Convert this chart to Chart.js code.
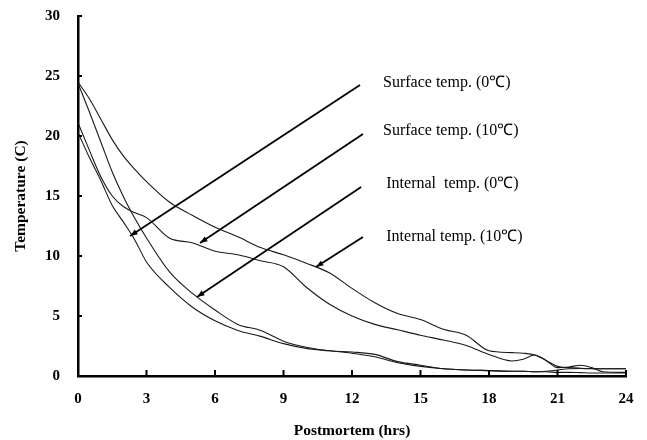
<!DOCTYPE html>
<html>
<head>
<meta charset="utf-8">
<script src="https://cdn.jsdelivr.net/npm/chart.js@4/dist/chart.umd.min.js"></script>
<style>
html, body { margin: 0; padding: 0; background: #fff; }
</style>
</head>
<body>
<canvas id="grafico" width="647" height="440"></canvas>
<script>
/* data */
var hours      = [0, 0.5, 1, 1.5, 2, 2.5, 3, 4, 5, 6, 7, 8, 9, 10, 11, 12, 13, 14, 15, 16, 17, 18, 19, 19.5, 20, 20.5, 21, 21.5, 22, 22.5, 23, 24];
var internal10 = [24.5, 23.1, 21.4, 19.7, 18.3, 17.2, 16.2, 14.5, 13.4, 12.4, 11.6, 10.7, 10.1, 9.4, 8.6, 7.3, 6.1, 5.2, 4.7, 3.9, 3.4, 2.1, 1.95, 1.9, 1.75, 1.3, 0.8, 0.7, 0.65, 0.62, 0.6, 0.6];
var surface10  = [21.1, 18.8, 16.6, 15.0, 14.1, 13.6, 13.2, 11.5, 11.1, 10.4, 10.1, 9.6, 9.1, 7.4, 6.0, 5.0, 4.3, 3.85, 3.4, 3.0, 2.55, 1.8, 1.25, 1.4, 1.75, 1.3, 0.7, 0.75, 0.9, 0.7, 0.35, 0.3];
var internal0  = [24.4, 22.0, 19.5, 17.0, 14.9, 13.1, 11.5, 8.7, 6.9, 5.5, 4.3, 3.8, 2.9, 2.4, 2.1, 2.0, 1.8, 1.2, 0.9, 0.6, 0.5, 0.45, 0.4, 0.4, 0.35, 0.35, 0.3, 0.3, 0.28, 0.25, 0.25, 0.25];
var surface0   = [20.3, 18.2, 16.3, 14.2, 12.8, 11.3, 9.5, 7.4, 5.75, 4.6, 3.8, 3.3, 2.7, 2.3, 2.1, 1.9, 1.6, 1.1, 0.8, 0.6, 0.5, 0.45, 0.4, 0.4, 0.35, 0.4, 0.5, 0.6, 0.62, 0.6, 0.6, 0.6];

/* arrow annotations: label end -> curve (hours, temp) */
var labelText = ['Surface temp. (0\u2103)', 'Surface temp. (10\u2103)', 'Internal  temp. (0\u2103)', 'Internal temp. (10\u2103)'];
var labelX    = [13.36, 13.36, 13.5, 13.5];
var labelY    = [24.4, 20.4, 16.0, 11.6];
var arrowFromX = [12.35, 12.48, 12.4, 12.48];
var arrowFromY = [24.25, 20.17, 15.75, 11.58];
var arrowToX   = [2.28, 5.34, 5.21, 10.42];
var arrowToY   = [11.67, 11.08, 6.58, 9.08];

var xTicks = [0, 3, 6, 9, 12, 15, 18, 21, 24];
var yTicks = [0, 5, 10, 15, 20, 25, 30];

var serif = "'Liberation Serif', 'Times New Roman', serif";

function pts(ys) {
  var out = [];
  for (var i = 0; i < hours.length; i++) out.push({x: hours[i], y: ys[i]});
  return out;
}

function curve(name, ys) {
  return {
    label: name,
    data: pts(ys),
    borderColor: '#1a1a1a',
    borderWidth: 1.1,
    pointRadius: 0,
    fill: false,
    cubicInterpolationMode: 'monotone'
  };
}

var sets = [
  curve('Internal temp. (10)', internal10),
  curve('Surface temp. (10)', surface10),
  curve('Internal temp. (0)', internal0),
  curve('Surface temp. (0)', surface0)
];

for (var a = 0; a < arrowFromX.length; a++) {
  sets.push({
    label: 'arrow' + a,
    data: [{x: arrowFromX[a], y: arrowFromY[a]}, {x: arrowToX[a], y: arrowToY[a]}],
    borderColor: '#000',
    borderWidth: 1.8,
    pointRadius: 0,
    fill: false,
    tension: 0
  });
}

/* inside ticks, arrow heads and labels */
var extras = {
  id: 'extras',
  afterDraw: function(chart) {
    var ctx = chart.ctx;
    var xs = chart.scales.x, ys = chart.scales.y;
    ctx.save();
    ctx.strokeStyle = '#000';
    ctx.lineWidth = 2;
    xTicks.forEach(function(t) {
      if (t === 0) return;
      var px = xs.getPixelForValue(t);
      ctx.beginPath();
      ctx.moveTo(px, ys.bottom);
      ctx.lineTo(px, ys.bottom - 6);
      ctx.stroke();
    });
    yTicks.forEach(function(t) {
      var py = ys.getPixelForValue(t);
      ctx.beginPath();
      ctx.moveTo(xs.left, py);
      ctx.lineTo(xs.left + 4, py);
      ctx.stroke();
    });

    ctx.fillStyle = '#000';
    for (var i = 0; i < arrowToX.length; i++) {
      var x1 = xs.getPixelForValue(arrowFromX[i]), y1 = ys.getPixelForValue(arrowFromY[i]);
      var x2 = xs.getPixelForValue(arrowToX[i]), y2 = ys.getPixelForValue(arrowToY[i]);
      var ang = Math.atan2(y2 - y1, x2 - x1);
      ctx.beginPath();
      ctx.moveTo(x2, y2);
      ctx.lineTo(x2 - 8 * Math.cos(ang - 0.35), y2 - 8 * Math.sin(ang - 0.35));
      ctx.lineTo(x2 - 8 * Math.cos(ang + 0.35), y2 - 8 * Math.sin(ang + 0.35));
      ctx.closePath();
      ctx.fill();
    }

    ctx.font = '16px ' + serif;
    ctx.textBaseline = 'middle';
    ctx.textAlign = 'left';
    for (var j = 0; j < labelText.length; j++) {
      ctx.fillText(labelText[j], xs.getPixelForValue(labelX[j]), ys.getPixelForValue(labelY[j]));
    }
    ctx.restore();
  }
};

var ctx = document.getElementById('grafico');
var grafico = new Chart(ctx, {
  type: 'line',
  data: { datasets: sets },
  plugins: [extras],
  options: {
    responsive: false,
    animation: false,
    layout: { padding: { top: 16, right: 21, bottom: 0, left: 0 } },
    plugins: { legend: { display: false }, tooltip: { enabled: false } },
    scales: {
      x: {
        type: 'linear',
        min: 0, max: 24,
        afterFit: function(s) { s.height = 64; },
        afterBuildTicks: function(s) { s.ticks = xTicks.map(function(v) { return {value: v}; }); },
        grid: { display: false, drawTicks: true, tickLength: 14 },
        border: { display: true, color: '#000', width: 2.5 },
        ticks: { color: '#000', padding: 0, maxRotation: 0, font: { family: serif, size: 15, weight: 'bold' } },
        title: { display: true, text: 'Postmortem (hrs)', color: '#000', padding: { top: 1, bottom: 0 }, font: { family: serif, size: 15.5, weight: 'bold' } }
      },
      y: {
        type: 'linear',
        min: 0, max: 30,
        afterFit: function(s) { s.width = 78; },
        afterBuildTicks: function(s) { s.ticks = yTicks.map(function(v) { return {value: v}; }); },
        grid: { display: false, drawTicks: true, tickLength: 18 },
        border: { display: true, color: '#000', width: 2.5 },
        ticks: { color: '#000', padding: 0, font: { family: serif, size: 15, weight: 'bold' } },
        title: { display: true, text: 'Temperature (C)', color: '#000', padding: { top: 12, bottom: 0 }, font: { family: serif, size: 15.5, weight: 'bold' } }
      }
    }
  }
});
</script>
</body>
</html>
